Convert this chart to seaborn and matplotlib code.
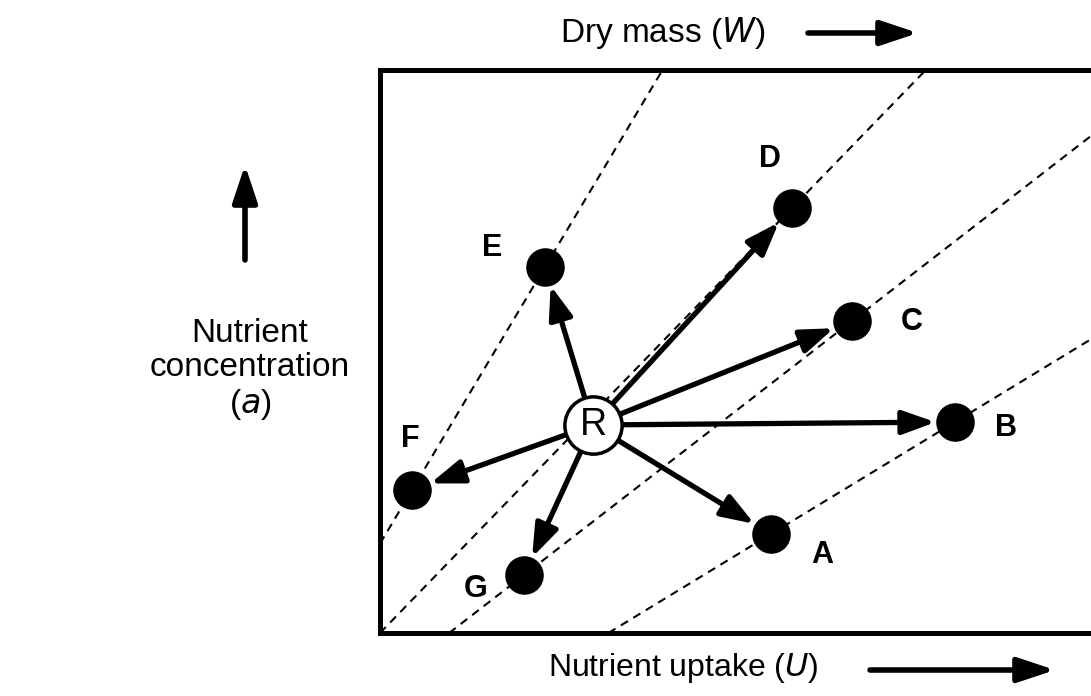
import seaborn as sns
import matplotlib.pyplot as plt
import pandas as pd

# point data (uptake U on x, concentration a on y, arbitrary units)
labels = ["A", "B", "C", "D", "E", "F", "G"]
u_vals = [3.91, 5.75, 4.72, 4.12, 1.65, 0.32, 1.44]
a_vals = [0.99, 2.11, 3.12, 4.25, 3.66, 1.43, 0.58]
ref_u, ref_a = 2.13, 2.08

# iso-lines of dry mass, drawn through pairs of points
iso_pairs = [("F", "E"), ("origin", "D"), ("G", "C"), ("A", "B")]

# label offsets (points)
label_off = {"A": (37, -15), "B": (37, -4), "C": (43, -1), "D": (-16, 35),
             "E": (-38, 14), "F": (-1, 37), "G": (-35, -10)}

df = pd.DataFrame({"label": labels, "U": u_vals, "a": a_vals})

sns.set_style("white")
plt.rcParams["font.family"] = ["Liberation Sans", "DejaVu Sans"]
plt.rcParams["text.color"] = "black"

fig = plt.figure(figsize=(10.91, 6.96), dpi=100)
ax = fig.add_axes([380 / 1091, 63 / 696, 730 / 1091, 563 / 696])
ax.set_xlim(0, 7.3)
ax.set_ylim(0, 5.63)
ax.set_xticks([])
ax.set_yticks([])
for s in ax.spines.values():
    s.set_linewidth(3.6)
    s.set_color("black")

pts = {r.label: (r.U, r.a) for r in df.itertuples()}
pts["origin"] = (0, 0)
for p1, p2 in iso_pairs:
    ax.axline(pts[p1], pts[p2], color="black", lw=1.5, ls=(0, (4, 3)), zorder=1)

# arrows from R to each point
for r in df.itertuples():
    ax.annotate("", xy=(r.U, r.a), xytext=(ref_u, ref_a),
                arrowprops=dict(arrowstyle="-|>,head_length=1.0,head_width=0.36",
                                mutation_scale=20, lw=3.8, color="black",
                                shrinkA=0, shrinkB=14), zorder=2)

sns.scatterplot(data=df, x="U", y="a", s=660, color="black", edgecolor="black",
                ax=ax, zorder=3, legend=False)
ax.set_xlabel("")
ax.set_ylabel("")

for r in df.itertuples():
    ax.annotate(r.label, (r.U, r.a), xytext=label_off[r.label],
                textcoords="offset points", ha="center", va="center",
                fontsize=22, fontweight="bold")

# reference plant R
ax.scatter([ref_u], [ref_a], s=1700, facecolor="white", edgecolor="black",
           lw=2.5, zorder=4)
ax.text(ref_u, ref_a, "R", fontsize=27, ha="center", va="center", zorder=5)

# axis titles and direction arrows
fig.text(663 / 1091, 1 - 33 / 696, "Dry mass ($\\it{W}$)", fontsize=24,
         ha="center", va="center")
fig.text(683 / 1091, 1 - 668 / 696, "Nutrient uptake ($\\it{U}$)", fontsize=23,
         ha="center", va="center")
fig.text(250 / 1091, 1 - 370 / 696, "Nutrient\nconcentration\n($\\it{a}$)",
         fontsize=24, ha="center", va="center", linespacing=1.15)

arrow_kw = dict(arrowstyle="-|>,head_length=0.9,head_width=0.3",
                mutation_scale=25, lw=4, color="black", shrinkA=0, shrinkB=0)
ax.annotate("", xy=(918, 663), xytext=(808, 663), xycoords="figure pixels",
            textcoords="figure pixels", arrowprops=arrow_kw, annotation_clip=False)
ax.annotate("", xy=(1055, 26), xytext=(870, 26), xycoords="figure pixels",
            textcoords="figure pixels", arrowprops=arrow_kw, annotation_clip=False)
ax.annotate("", xy=(245, 531), xytext=(245, 436), xycoords="figure pixels",
            textcoords="figure pixels", arrowprops=arrow_kw, annotation_clip=False)

fig.savefig("out.png", dpi=100)
